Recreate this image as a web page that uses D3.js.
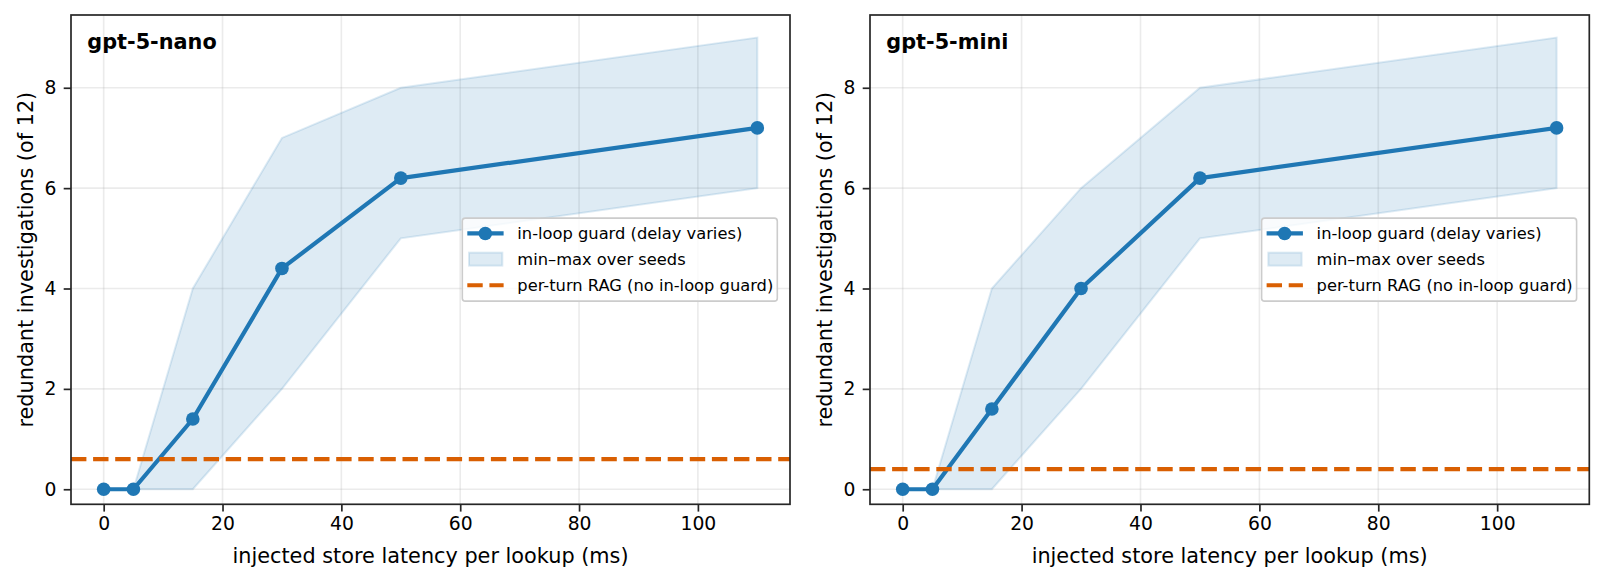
<!DOCTYPE html>
<html lang="en">
<head>
<meta charset="UTF-8">
<title>redundant investigations vs store latency</title>
<script src="https://cdn.jsdelivr.net/npm/d3@7"></script>
<style>
    body { margin:0; background:#fff; }
    svg { font-family:"DejaVu Sans", sans-serif; display:block; }
    .axis .domain { display:none; }
</style>
</head>
<body>
<svg width="1604" height="583"></svg>
<script>
    // data
    var latency = [0, 5, 15, 30, 50, 110];
    var nanoMean = [0, 0, 1.4, 4.4, 6.2, 7.2];
    var nanoMin  = [0, 0, 0, 2, 5, 6];
    var nanoMax  = [0, 0, 4, 7, 8, 9];
    var nanoRag  = 0.6;
    var miniMean = [0, 0, 1.6, 4.0, 6.2, 7.2];
    var miniMin  = [0, 0, 0, 2, 5, 6];
    var miniMax  = [0, 0, 4, 6, 8, 9];
    var miniRag  = 0.4;
    var xTicks = [0, 20, 40, 60, 80, 100];
    var yTicks = [0, 2, 4, 6, 8];
    var legendLabels = ['in-loop guard (delay varies)', 'min\u2013max over seeds', 'per-turn RAG (no in-loop guard)'];

    var blue = '#1f77b4', orange = '#d95f02';
    var svg = d3.select('svg');

    var panels = [
        {name:'gpt-5-nano', mean:nanoMean, lo:nanoMin, hi:nanoMax, rag:nanoRag, left:71, right:790},
        {name:'gpt-5-mini', mean:miniMean, lo:miniMin, hi:miniMax, rag:miniRag, left:870, right:1589.3}
    ];
    var plotTop = 15, plotBottom = 504.3;

    panels.forEach(function(p){
        var x = d3.scaleLinear().domain([-5.5, 115.5]).range([p.left, p.right]);
        var y = d3.scaleLinear().domain([-0.3, 9.45]).range([plotBottom, plotTop]);
        var g = svg.append('g');
        var rows = latency.map(function(d,i){ return {x:d, m:p.mean[i], lo:p.lo[i], hi:p.hi[i]}; });

        // grid
        g.append('g').selectAll('line').data(xTicks).enter().append('line')
            .attr('x1', x).attr('x2', x).attr('y1', plotTop).attr('y2', plotBottom)
            .attr('stroke', '#b0b0b0').attr('stroke-opacity', 0.25).attr('stroke-width', 1.6);
        g.append('g').selectAll('line').data(yTicks).enter().append('line')
            .attr('y1', y).attr('y2', y).attr('x1', p.left).attr('x2', p.right)
            .attr('stroke', '#b0b0b0').attr('stroke-opacity', 0.25).attr('stroke-width', 1.6);

        // min-max band
        var area = d3.area().x(function(d){ return x(d.x); })
            .y0(function(d){ return y(d.lo); }).y1(function(d){ return y(d.hi); });
        g.append('path').datum(rows).attr('d', area)
            .attr('fill', blue).attr('fill-opacity', 0.15)
            .attr('stroke', blue).attr('stroke-opacity', 0.15).attr('stroke-width', 2);

        // mean line with markers
        var line = d3.line().x(function(d){ return x(d.x); }).y(function(d){ return y(d.m); });
        g.append('path').datum(rows).attr('d', line)
            .attr('fill', 'none').attr('stroke', blue).attr('stroke-width', 4.2)
            .attr('stroke-linejoin', 'round');
        g.append('g').selectAll('circle').data(rows).enter().append('circle')
            .attr('cx', function(d){ return x(d.x); }).attr('cy', function(d){ return y(d.m); })
            .attr('r', 6.8).attr('fill', blue);

        // per-turn RAG reference
        g.append('line').attr('x1', p.left).attr('x2', p.right)
            .attr('y1', y(p.rag)).attr('y2', y(p.rag))
            .attr('stroke', orange).attr('stroke-width', 4.2).attr('stroke-dasharray', '15.4,6.7');

        // frame
        g.append('rect').attr('x', p.left).attr('y', plotTop)
            .attr('width', p.right - p.left).attr('height', plotBottom - plotTop)
            .attr('fill', 'none').attr('stroke', '#262626').attr('stroke-width', 1.7);

        // axes
        var xa = g.append('g').attr('class', 'axis')
            .attr('transform', 'translate(0,' + plotBottom + ')')
            .call(d3.axisBottom(x).tickValues(xTicks).tickSize(7.3).tickPadding(5.5).tickFormat(d3.format('d')));
        var ya = g.append('g').attr('class', 'axis')
            .attr('transform', 'translate(' + p.left + ',0)')
            .call(d3.axisLeft(y).tickValues(yTicks).tickSize(7.3).tickPadding(7.3).tickFormat(d3.format('d')));
        [xa, ya].forEach(function(a){
            a.selectAll('line').attr('stroke', '#262626').attr('stroke-width', 1.7);
            a.selectAll('text').attr('fill', '#000').attr('font-size', 18.75)
                .attr('font-family', '"DejaVu Sans", sans-serif');
        });

        // axis titles
        g.append('text').attr('x', (p.left + p.right) / 2).attr('y', 563)
            .attr('text-anchor', 'middle').attr('font-size', 20.8).text('injected store latency per lookup (ms)');
        g.append('text')
            .attr('transform', 'translate(' + (p.left - 38.5) + ',' + ((plotTop + plotBottom) / 2) + ') rotate(-90)')
            .attr('text-anchor', 'middle').attr('font-size', 20.8).text('redundant investigations (of 12)');

        // panel title
        g.append('text').attr('x', p.left + 16.3).attr('y', plotTop + 34.3)
            .attr('font-size', 20.8).attr('font-weight', 'bold').text(p.name);

        // legend, center right
        var lg = g.append('g');
        var box = lg.append('rect').attr('rx', 3).attr('ry', 3)
            .attr('fill', '#fff').attr('fill-opacity', 0.8)
            .attr('stroke', '#cccccc').attr('stroke-width', 1.6);
        var texts = lg.selectAll('text').data(legendLabels).enter().append('text')
            .attr('x', 55).attr('y', function(d,i){ return 15.3 + i * 25.9; })
            .attr('dy', '0.35em').attr('font-size', 16.3).text(function(d){ return d; });
        var tw = d3.max(texts.nodes(), function(n){ return n.getComputedTextLength(); });
        var bw = 55 + tw + 4, bh = 83;
        box.attr('width', bw).attr('height', bh);
        lg.attr('transform', 'translate(' + (p.right - 12.7 - bw) + ',' + ((plotTop + plotBottom) / 2 - bh / 2) + ')');
        lg.append('line').attr('x1', 5).attr('x2', 41.3).attr('y1', 15.3).attr('y2', 15.3)
            .attr('stroke', blue).attr('stroke-width', 4.2);
        lg.append('circle').attr('cx', 23).attr('cy', 15.3).attr('r', 6.8).attr('fill', blue);
        lg.append('rect').attr('x', 6.7).attr('y', 34.5).attr('width', 33.3).attr('height', 13)
            .attr('fill', blue).attr('fill-opacity', 0.15)
            .attr('stroke', blue).attr('stroke-opacity', 0.15).attr('stroke-width', 2);
        lg.append('line').attr('x1', 5).attr('x2', 41.3).attr('y1', 67.1).attr('y2', 67.1)
            .attr('stroke', orange).attr('stroke-width', 4.2).attr('stroke-dasharray', '15.4,6.7');
    });
</script>
</body>
</html>
